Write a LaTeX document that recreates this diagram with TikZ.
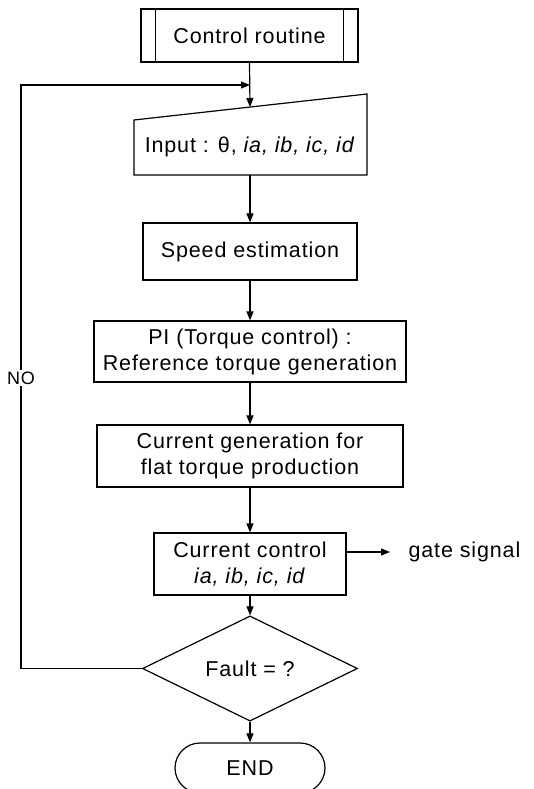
\documentclass[tikz,border=0pt]{standalone}
\usepackage{fontspec}
\setmainfont{Liberation Sans}[LetterSpace=4]
\usetikzlibrary{arrows.meta,shapes.geometric}
\begin{document}
\begin{tikzpicture}[x=1pt,y=-1pt,
  font=\fontsize{21.5}{26}\selectfont,
  line width=1.2pt,
  box/.style={draw, rectangle, inner sep=0pt, align=center},
  arr/.style={-{Triangle[length=9pt,width=7pt]}}]
\useasboundingbox (0,0) rectangle (534,789);

% Control routine (predefined process)
\node[box, minimum width=217pt, minimum height=53pt] (ctrl) at (249.5,35.5) {Control routine};
\draw ([xshift=15pt]ctrl.north west) -- ([xshift=15pt]ctrl.south west);
\draw ([xshift=-15pt]ctrl.north east) -- ([xshift=-15pt]ctrl.south east);

% Manual input
\coordinate (i1) at (134,120);
\coordinate (i2) at (367,94);
\coordinate (i3) at (367,175);
\coordinate (i4) at (134,175);
\draw (i1) -- (i2) -- (i3) -- (i4) -- cycle;
\node (inp) at (250,147) {Input : θ, \textit{ia, ib, ic, id}};
\coordinate (inptop) at (250,107);
\coordinate (inpbot) at (250,175);

\node[box, minimum width=214pt, minimum height=57pt] (spd) at (250,251.5) {Speed estimation};
\node[box, minimum width=312pt, minimum height=61pt] (pi) at (250,351.5) {PI (Torque control) :\\Reference torque generation};
\node[box, minimum width=306pt, minimum height=62pt] (cg) at (250,456) {Current generation for\\flat torque production};
\node[box, minimum width=192pt, minimum height=62pt] (cc) at (250,564) {Current control\\\textit{ia, ib, ic, id}};
\node[draw, diamond, inner sep=0pt, minimum width=215pt, minimum height=83pt] (flt) at (250,668.5) {Fault = ?};
\node[draw, rectangle, rounded corners=25pt, minimum width=150pt, minimum height=50pt] (end) at (250,768) {END};

\node[anchor=west, inner sep=0pt] (gate) at (408,552) {gate signal};

% connectors
\draw[arr] (ctrl.south) -- (inptop);
\draw[arr] (inpbot) -- (spd.north);
\draw[arr] (spd.south) -- (pi.north);
\draw[arr] (pi.south) -- (cg.north);
\draw[arr] (cg.south) -- (cc.north);
\draw[arr] (cc.south) -- (flt.north);
\draw[arr] (flt.south) -- (end.north);
\draw[arr] (cc.east |- gate.west) -- ([xshift=-18pt]gate.west);

% loop back
\coordinate (lb) at (21,668.5);
\coordinate (lt) at (21,85);
\coordinate (lj) at (250,85);
\draw[arr] (flt.west) -- (lb) -- (lt) -- (lj);
\node[fill=white, inner sep=2pt, font=\fontsize{18}{21}\selectfont] (no) at (21,378) {NO};
\end{tikzpicture}
\end{document}
